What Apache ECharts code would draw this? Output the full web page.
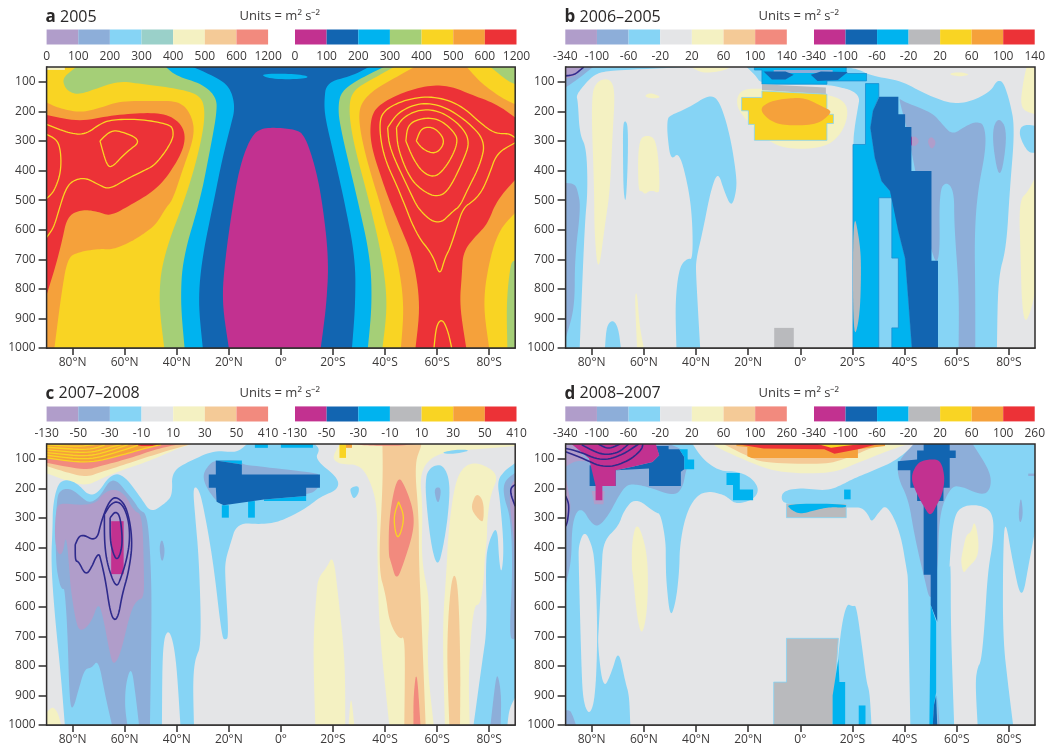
<!DOCTYPE html>
<html><head><meta charset="utf-8">
<style>html,body{margin:0;padding:0;background:#fff}#c{width:1048px;height:749px}</style>
<script src="https://cdn.jsdelivr.net/npm/echarts@6/dist/echarts.min.js"></script>
</head><body><div id="c"></div>
<script>
// ---------- tick labels ----------
const latTicks=[-80,-60,-40,-20,0,20,40,60,80];
const pressureTicks=[100,200,300,400,500,600,700,800,900,1000];
const scaleA=['0','100','200','300','400','500','600','1200'];
const scaleB=['-340','-100','-60','-20','20','60','100','140'];
const scaleC=['-130','-50','-30','-10','10','30','50','410'];
const scaleD=['-340','-100','-60','-20','20','60','100','260'];
// ---------- palette ----------
const LAV='#b09dca',PER='#8daed9',SKY='#86d4f5',TEAL='#9ad0c9',GREY='#e4e5e7',PY='#f4f1c2',PEACH='#f4ca97',SAL='#f28a7e';
const MAG='#c23190',BLUE='#1265b1',CYAN='#00b3ef',GREEN='#a5cf77',GR2='#b9babd',YEL='#f9d423',ORA='#f5a13b',RED='#ec3237';
const NAVY='#2e2a8c',EDGE='#1a8fd1';
const barA1=[LAV,PER,SKY,TEAL,PY,PEACH,SAL],barA2=[MAG,BLUE,CYAN,GREEN,YEL,ORA,RED];
const barB1=[LAV,PER,SKY,GREY,PY,PEACH,SAL],barB2=[MAG,BLUE,CYAN,GR2,YEL,ORA,RED];
const full=[[-90,50],[90,50],[90,1000],[-90,1000]];

// ---------- panel a : regions as [latitude (N<0), pressure] ----------
const a_ora_l=[[-90,170],[-86,187],[-78,204],[-71,193],[-62,165],[-49,165],[-39,165],[-34.4,210],[-33,278],[-37.5,391],[-41.6,500],[-44.2,526],[-48,583],[-53.2,617],[-58.4,645],[-65,668],[-69.5,664],[-78,676],[-82,696],[-84.4,821],[-87,1000],[-90,1000]];
const a_red_l=[[-90,212],[-78,235],[-66,215],[-53,204],[-43,210],[-37,255],[-37,323],[-43,414],[-48.7,469],[-58.4,520],[-65.6,554],[-70,540],[-75.3,532],[-80,543],[-82.5,571],[-83.8,628],[-86.4,719],[-90,821]];
const a_ora_r=[[51.3,50],[42.9,91],[35.1,131],[30.5,176],[29.9,232],[31.8,323],[35,425],[37.7,500],[40.3,583],[44.8,696],[47.4,855],[46.1,1000],[80,1000],[77.5,844],[80.5,685],[84.4,594],[90,543],[90,176],[84.4,153],[76.6,102],[71.4,50]];
const a_red_r=[[90,221],[83,176],[72.7,142],[66,117],[58.4,110],[48,131],[37.7,176],[34.4,221],[34.4,312],[39,436],[41.6,500],[45.5,583],[50.9,696],[53.6,855],[51.7,1000],[71.2,1000],[68.6,855],[69.5,753],[70,673],[75.3,617],[79.2,583],[83,500],[90,431]];
const a_grn_tr=[[80.5,50],[87,97],[90,108],[90,50]];
const a_grn_br=[[90,705],[88.3,708],[86.6,844],[87,1000],[90,1000]];
const a_grn=[[-78.6,50],[-83,80],[-83.8,102],[-82,131],[-78,144],[-71.4,125],[-62.3,97],[-53,108],[-40.3,122],[-31,144],[-29,198],[-30.5,300],[-35.7,470],[-45.5,696],[-47,844],[-44.8,1000],[39,1000],[41,855],[39,696],[33.8,500],[28,312],[26,198],[27.3,131],[35,91],[43.5,50]];
const a_cya=[[-44.2,50],[-40.3,80],[-30,108],[-24.7,153],[-24.7,210],[-27.3,334],[-31,500],[-37.7,696],[-38.6,844],[-37,1000],[33.4,1000],[35,855],[34.4,696],[29.5,500],[22.5,244],[22,176],[23.4,131],[30,91],[39.6,50]];
const a_blu=[[-33.8,50],[-24.7,85],[-19.5,119],[-17.5,187],[-19.5,255],[-22.7,368],[-25.7,500],[-30.3,696],[-31.8,844],[-30,1000],[27.3,1000],[28.6,855],[28.6,696],[24.3,500],[20,334],[17,221],[16.6,165],[17.5,102],[27.3,80],[33.8,50]];
const a_mag=[[-7.8,257],[-11.7,289],[-15.6,380],[-18.2,500],[-21.4,696],[-22.7,844],[-20,1000],[15.3,1000],[17.5,855],[18.4,696],[15.8,500],[13,380],[9,278],[5.2,261],[-1.3,255]];
const a_cya_t=[[-8.4,74],[-3.9,91],[9,91],[11,80],[2.6,72]];
const a_pale=[[-90,50],[-83,50],[-83,60],[-90,60]];
const a_l1=[[-90,244],[-82,272],[-75.3,280],[-68.8,238],[-63.6,227],[-53,227],[-43,244],[-41.3,261],[-41.6,300],[-48,380],[-53,402],[-59.7,431],[-66,464],[-70,448],[-75.3,423],[-80.5,436],[-83,470],[-85,526],[-87.3,594],[-90,626]];
const a_l2=[[-90,278],[-85,300],[-84.2,397],[-87,470],[-90,495]];
const a_l3=[[-69.5,300],[-66,269],[-62.3,264],[-53.2,298],[-59.7,340],[-65,391],[-67,380],[-69.5,300]];
const a_r1=[[52,300],[53.9,255],[59,253],[63.4,300],[59.7,346],[54.5,329],[52,300]];
const a_r2=[[48,300],[48.7,244],[54.5,221],[61,227],[66.2,266],[68.2,300],[65,368],[59.7,425],[54.5,408],[50.6,357],[48,300]];
const a_r3=[[44.4,255],[46.8,221],[53.2,193],[61,198],[68.8,244],[72.7,300],[70,368],[64.3,470],[59.7,490],[54.5,469],[49.4,425],[44.8,323],[44.4,255]];
const a_r4=[[41,255],[44.8,204],[53.2,170],[62.3,181],[71.4,232],[78.6,300],[76.6,380],[71.4,470],[68.8,520],[66.2,537],[60.4,586],[53.2,537],[49.4,469],[41.6,323],[41,255]];
const a_r5=[[90,289],[87.7,275],[82.5,275],[77.9,249],[68.8,176],[58.4,148],[48,159],[39,198],[37.7,255],[39.6,357],[45.5,469],[52,617],[58.4,685],[61,759],[63,696],[65,662],[67.5,594],[70,526],[74,503],[77.3,469],[80,414],[83,340],[90,306]];
const a_r6=[[58.8,1000],[59.7,923],[62,900],[64.3,946],[65.6,1000]];

// ---------- panel b ----------
const b_sky_l=[[-90,50],[-42.6,50],[-68.4,60],[-76.2,66],[-80,83],[-84,122],[-85.9,148],[-85.3,165],[-84.6,278],[-82,323],[-81.5,470],[-82.7,583],[-84.6,1000],[-90,1000]];
const b_per_t=[[-90,50],[-79.4,50],[-85.3,91],[-90,119]];
const b_lav_t=[[-90,50],[-82.7,50],[-85.9,80],[-90,90]];
const b_nav_t=[[-90,80],[-86.5,76],[-84,57],[-83,50]];
const b_per_l=[[-90,442],[-86.5,445],[-85.3,470],[-84.2,526],[-86.5,696],[-86.5,866],[-90,968]];
const b_sliver=[[-68,244],[-67.1,230],[-66.1,249],[-66.1,357],[-66.6,469],[-67.1,509],[-67.8,469],[-68,357]];
const b_sky_m=[[-51,232],[-50.3,215],[-42.6,187],[-34.8,142],[-30.9,165],[-27,278],[-24.5,414],[-24.5,470],[-26.4,526],[-29.2,469],[-31.6,402],[-34.4,469],[-37.4,605],[-40,702],[-40,753],[-38.4,1000],[-47.5,1000],[-48,844],[-46.4,725],[-43.2,696],[-41.3,702],[-41.3,583],[-42.6,469],[-46.4,334],[-49.7,368],[-51,278]];
const b_sky_s=[[-74.9,1000],[-74.3,923],[-71.7,904],[-69.7,935],[-68.8,1000]];
const b_sky_r=[[22.8,153],[22.1,187],[20.8,255],[20.2,312],[20.2,1000],[75.4,1000],[75.8,764],[79,662],[80.3,469],[82.3,255],[80.3,165],[77.7,97],[75.2,97],[73.2,131],[66.1,165],[58.3,176],[48,142],[38.9,97],[27.3,80],[22.1,57],[17,50],[-20.6,50],[-17,80],[-15,108],[9.8,108],[17,122],[20.2,131]];
const b_sky_e=[[84.2,255],[86.8,244],[90,249],[90,340],[87.4,340],[84.2,289]];
const b_halo=[[-24.5,153],[-21.9,125],[-14.7,122],[10.5,142],[17,165],[18.5,210],[15.7,278],[9.2,323],[-3.8,329],[-11.5,306],[-18,255],[-23.8,198]];
const b_py_a=[[-79,470],[-80.3,153],[-78.1,97],[-73,88],[-71,131],[-72,278],[-73,470],[-74.9,583],[-77.5,759],[-79,605]];
const b_py_b=[[-62.2,470],[-62.2,298],[-58.7,278],[-54.9,298],[-53.7,470],[-55.2,475],[-56.1,469],[-58,469],[-59.6,481],[-60.7,469]];
const b_py_1=[[-41.9,50],[-37.4,72],[-29.6,63],[-26.4,50]];
const b_py_2=[[-60,148],[-57.4,136],[-52.9,153],[-57.4,157]];
const b_py_3=[[56.4,74],[60.9,66],[65.5,76],[60.9,83]];
const b_py_4=[[90,210],[84.2,193],[85.5,97],[86.8,50],[90,50]];
const b_py_5=[[90,425],[87.4,470],[83.8,503],[84.5,696],[84.9,844],[86.2,921],[88.7,866],[90,810]];
const b_py_6=[[-63.5,821],[-62.6,810],[-61.7,923],[-60,1000],[-62.6,1000]];
const b_per_r=[[37.6,151],[38.9,165],[50.6,204],[54.5,244],[58.3,280],[63.5,249],[67.4,235],[70.6,244],[71.3,323],[68,470],[66.8,617],[67.1,810],[67.1,1000],[60.7,1000],[60.9,810],[59,583],[59,470],[56,436],[53.2,470],[53.6,705],[50.6,705],[41.5,278]];
const b_per_s=[[73.2,278],[75.8,215],[79.7,266],[76.5,453]];
const b_lav_1=[[41.5,300],[43.5,280],[46,300],[43.5,323]];
const b_lav_2=[[48.6,300],[50.3,283],[52.3,306],[50.3,332]];
const b_mag_s=[[41.8,300],[42.8,283],[42.8,317]];
const b_dark=[[30.3,151],[37.6,151],[37.6,210],[40.2,210],[40.2,253],[42.6,253],[42.6,402],[50.3,402],[50.3,705],[52.8,705],[52.8,1000],[42.8,1000],[41.5,844],[40.2,696],[37.6,605],[34.4,469],[31.2,436],[28.6,357],[26.9,255],[27.9,198]];
const b_cyan=[[20.2,312],[25,312],[25,106],[30.1,106],[30.1,151],[27.9,198],[26.9,255],[28.6,357],[31.2,436],[34.4,469],[35.5,492],[37.6,605],[40.2,696],[41.5,844],[42.8,1000],[35.1,1000],[35.1,932],[37.6,932],[37.6,696],[35.1,696],[35.1,492],[30.1,492],[30.1,1000],[20.2,1000]];
const b_grey2=[[20.2,526],[22.8,639],[23.4,730],[22.8,900],[20.2,980]];
const b_cya_t=[[-17.6,50],[17.6,50],[17.6,72],[25.4,72],[25.4,97],[10.2,97],[10.2,108],[-14.7,108],[-14.7,60],[-17.6,60]];
const b_per_t2=[[-10.2,60],[12.4,60],[12.4,70],[-10.2,70]];
const b_drk_1=[[-14.1,65],[-5.7,65],[-2.5,76],[-5.7,92],[-10.9,92]];
const b_drk_2=[[4,76],[7.9,65],[18.2,67],[14.4,94],[6.6,97]];
const b_gry_t=[[-14.7,108],[9.8,119],[9.8,142],[-14.7,128]];
const b_yel=[[-22.5,153],[-14.7,153],[-14.7,131],[10.2,142],[10.2,210],[12.7,210],[12.7,241],[10.2,241],[10.2,298],[-17.6,298],[-17.6,244],[-19.9,244],[-19.9,198],[-22.5,198]];
const b_ora=[[-16,193],[-11.5,165],[-3.8,155],[2.1,155],[9.2,187],[11.8,198],[11.1,212],[6.6,244],[-3.8,249],[-10.9,238]];
const b_block=[[-10,1000],[-10,932],[-2.5,932],[-2.5,1000]];

// ---------- panel c ----------
const c_py_tl=[[-90,50],[-34,50],[-39.5,65],[-49.8,105],[-61.3,139],[-69,167],[-74.8,192],[-83.1,172],[-87.6,156],[-90,150]];
const c_pch_tl=[[-90,50],[-34.4,50],[-47.2,82],[-58.7,116],[-69,144],[-74.8,163],[-83.1,144],[-90,124]];
const c_sal_tl=[[-90,50],[-38.2,50],[-47.2,65],[-57.5,97],[-69,124],[-75.4,139],[-90,113]];
const c_ora_tl=[[-90,50],[-46,50],[-52.3,65],[-61.3,88],[-74.1,116],[-90,97]];
const c_red_tl=[[-57.5,50],[-46,50],[-47.2,57],[-53.6,57]];
const c_s1=[[-90,97],[-74.1,116],[-61.3,88],[-52.3,65],[-46,52]];
const c_s2=[[-90,88],[-74.1,105],[-62.6,77],[-54.9,54]];
const c_s3=[[-90,79],[-74.1,94],[-63.9,68],[-58.7,52]];
const c_s4=[[-90,70],[-74.1,82],[-65.2,60],[-61.3,52]];
const c_s5=[[-90,61],[-74.1,71],[-67.7,54]];
const c_s6=[[-90,53],[-78,59],[-71.6,52]];
const c_sky=[[-87.6,257],[-85.7,184],[-82.5,169],[-78,184],[-74.1,223],[-70.3,217],[-65.8,156],[-60.7,150],[-53.6,234],[-50,283],[-44.2,249],[-41.6,221],[-42,142],[-34.4,105],[-25.4,71],[-16.9,80],[-13,50],[13,50],[15,68],[13,102],[22,164],[22,204],[15.6,226],[9,271],[0,311],[-6.5,322],[-16.9,316],[-19.5,390],[-21.4,446],[-21.4,503],[-20,702],[-21.4,713],[-22.7,702],[-26,447],[-29.9,254],[-31.8,198],[-33.8,196],[-33,288],[-31.4,447],[-30.5,730],[-33,776],[-33.8,855],[-33.4,1000],[-38.6,1000],[-40.3,764],[-42.9,671],[-45.5,719],[-45.7,1000],[-83,1000],[-84.4,843],[-87,617],[-88.3,447],[-87.7,333]];
const c_per=[[-86.3,234],[-84.4,203],[-80.5,201],[-76.7,229],[-73.5,251],[-69.6,229],[-65.8,172],[-62.6,176],[-59.4,212],[-56.2,246],[-54.3,274],[-51.3,288],[-50,447],[-49.6,617],[-50.3,1000],[-54.5,1000],[-55.8,900],[-57.4,800],[-59.5,855],[-60,934],[-59,1000],[-64.9,1000],[-67.5,900],[-70.1,778],[-72.7,807],[-75.3,810],[-77.3,866],[-79.9,951],[-81.2,923],[-82,673],[-83.1,537],[-83.8,543],[-85,526],[-86.6,447]];
const c_lav=[[-86.4,266],[-84.4,249],[-76.6,257],[-70.8,249],[-68.8,221],[-64.3,200],[-59.7,221],[-56.5,277],[-53.2,288],[-52.6,480],[-52.6,571],[-55.2,577],[-57.8,617],[-61.7,764],[-64.3,798],[-65.6,764],[-68.2,639],[-70.1,583],[-72.7,651],[-76.6,685],[-78.6,662],[-80.8,537],[-81.2,480],[-82.5,350],[-83.8,423],[-85.7,423],[-87,367]];
const c_mag=[[-65.2,311],[-60.4,311],[-60.4,490],[-65.2,490]];
const c_n1=[[-79,390],[-77,351],[-70.8,381],[-69,311],[-66,243],[-63,226],[-59,266],[-56.9,378],[-58.4,480],[-61,560],[-62.3,628],[-63.9,649],[-65.6,617],[-67.3,515],[-69,447],[-70.1,414],[-73.4,480],[-75.3,490],[-77.7,447],[-79,446],[-79,390]];
const c_n2=[[-67.8,288],[-65.6,255],[-63,243],[-60.4,260],[-58.4,311],[-58,378],[-59.4,447],[-61.7,509],[-63,532],[-64.7,509],[-66.9,447],[-67.8,378],[-67.8,288]];
const c_n3=[[-65.6,299],[-63.6,277],[-61.7,294],[-60.8,378],[-61.7,423],[-63,442],[-64.3,423],[-65.6,378],[-65.6,299]];
const c_py_c=[[20.1,423],[17.5,469],[14.3,503],[13.6,560],[12.3,730],[13.2,1000],[24.7,1000],[24.7,787],[22,560]];
const c_py_n=[[26,1000],[26.9,889],[28.2,1000]];
const c_py_bl=[[-90,1000],[-90,957],[-87.7,937],[-85.7,957],[-84.4,1000]];
const c_py_r=[[22.7,50],[19.5,97],[22.7,119],[29.9,119],[33.8,164],[37,254],[37,401],[37.7,673],[41,946],[41.6,1000],[58.7,1000],[56,787],[57.4,583],[53.9,447],[54.5,266],[53.2,142],[59.7,80],[74,68],[90,57],[90,50]];
const c_py_2=[[70.8,119],[66.9,176],[64.3,345],[63.6,480],[62,673],[63,1000],[72.5,1000],[72,810],[74,594],[76.6,594],[78,503],[78.2,447],[79.2,367],[79.2,311],[80.5,221],[83.8,153],[76.6,114]];
const c_pch_b=[[73.4,249],[75.3,215],[77.9,243],[77.9,311],[76.6,311],[73.4,277]];
const c_pch_m=[[39,50],[39.2,176],[37.4,470],[40.3,560],[41.6,651],[45.5,713],[47.8,696],[47.4,1000],[55.6,1000],[53.9,617],[53,447],[53,299],[51.3,119],[53.9,57],[53.9,50]];
const c_sal_m=[[44.8,153],[41.6,288],[41.3,423],[42.2,447],[44.4,515],[47.4,447],[51,345],[51,277],[48,198]];
const c_sal_l=[[50.9,1000],[50.9,900],[52.2,804],[53.6,1000]];
const c_yel_l=[[45.2,245],[43.1,299],[44.8,384],[47.7,299],[45.2,245]];
const c_pch_c=[[64.7,1000],[63.6,730],[65.5,490],[68,503],[69,787],[68.8,1000]];
const c_sal_t=[[27,50],[33,55],[45,57],[52,50]];
const c_yel_t=[[22.5,50],[25,50],[25,97],[22.5,97]];
const c_ora_t=[[25,50],[27.3,50],[27.3,63],[25,63]];
const c_cya_t1=[[-10,50],[-5,50],[-5,63],[-10,63]];
const c_cya_t2=[[0,50],[12.3,50],[12.3,63],[0,63]];
const c_per_m=[[-25.3,102],[-28.6,130],[-30,159],[-28.6,198],[-24.7,245],[-22,257],[-16.9,226],[9.7,226],[15,198],[15,153],[12.3,147],[-9,125],[-15,119],[-15,106]];
const c_drk=[[-25,106],[-15,119],[-15,153],[15,153],[15,198],[9.7,198],[9.7,226],[-6.5,238],[-22,257],[-24.7,245],[-25,198],[-27.7,198],[-27.7,153],[-25,153]];
const c_cy_1=[[-25,106],[-15,106],[-15,119]];
const c_cy_2=[[-6.5,238],[9.7,226],[9.7,243],[-6.5,243]];
const c_cy_3=[[-22.7,257],[-20,257],[-20,299],[-22.7,299]];
const c_cy_4=[[-12.6,243],[-10,243],[-10,299],[-12.6,299]];
const c_sky_s=[[26.6,198],[29.9,190],[30,215],[28,238],[26.8,215]];
const c_per_s=[[-46.8,401],[-45.7,367],[-44.4,412],[-45.7,457]];
const c_sky_1=[[55.2,164],[57.8,125],[62.3,119],[65,176],[64.3,288],[62.3,401],[60.4,463],[58.4,423],[56.5,311]];
const c_per_1=[[58.8,198],[61.7,196],[60.8,249],[59.7,243]];
const c_sky_t=[[61,80],[67.5,68],[73.4,71],[66.2,85]];
const c_sky_r=[[90,114],[85.7,142],[83.1,176],[84.2,243],[85.7,401],[84.8,492],[83.8,447],[83.1,322],[79.9,378],[78.6,447],[79.2,673],[77.3,787],[74,1000],[87,1000],[87.7,946],[90,906]];
const c_per_r=[[90,147],[85.7,176],[85.5,226],[88.3,299],[89,480],[87.7,702],[89.6,713],[90,700]];
const c_lav_r=[[90,170],[88.3,187],[87.7,243],[89.6,378],[90,468]];
const c_per_b=[[80.5,1000],[82.5,843],[83.4,830],[84.7,900],[84.4,1000]];
const c_nav_r=[[90,187],[88.3,198],[88.3,221],[90,260]];

// ---------- panel d ----------
const d_sky_l=[[-90,50],[-41.3,50],[-37.4,102],[-30.9,142],[-24.5,142],[-18.6,164],[-15.7,204],[-18,238],[-24.5,254],[-27.7,232],[-29.6,221],[-35.4,209],[-40,226],[-43.9,288],[-46.2,390],[-46.4,480],[-47.7,583],[-49.9,642],[-51.4,515],[-51.6,447],[-51.6,378],[-53.6,285],[-55.5,283],[-63.3,230],[-67.8,277],[-69.7,328],[-75.6,378],[-76.2,480],[-77.2,662],[-77.7,730],[-75.6,883],[-72.3,821],[-69.7,742],[-67.1,855],[-65.6,900],[-65.2,1000],[-90,1000]];
const d_pocket=[[-85,390],[-82.7,342],[-80,390],[-78.8,447],[-77.7,673],[-78.5,900],[-80.7,970],[-83.3,923],[-84,787],[-85,447]];
const d_per_bl=[[-90,950],[-88,950],[-86,1000],[-90,1000]];
const d_py_l=[[-64.6,480],[-64.6,378],[-62.6,311],[-59.4,390],[-58.3,480],[-58.7,617],[-60.7,702],[-62.6,639],[-64.3,480]];
const d_per_l=[[-90,50],[-50.3,50],[-45.1,68],[-42.6,108],[-43.9,142],[-45.1,198],[-48.4,226],[-57.4,198],[-62.6,187],[-66.5,187],[-69.7,226],[-73.3,288],[-77.7,333],[-80.7,311],[-83.3,271],[-85.9,277],[-87.6,333],[-87.8,447],[-90,526]];
const d_per_r=[[43.5,50],[66.1,50],[72.8,142],[73.2,198],[70,226],[60.9,189],[57.3,200],[53.2,288],[52.8,480],[50,594],[47.3,492],[46,447],[43.5,345],[41.5,238],[37.4,164],[37.4,108]];
const d_sky_r=[[44.1,50],[90,50],[90,345],[87.8,447],[84.9,588],[81.4,447],[78.4,291],[77.7,447],[77.7,707],[79.7,866],[81.6,1000],[42.2,1000],[41.5,673],[41.3,503],[40.9,480],[38.3,345],[33.1,252],[29.9,283],[27.3,316],[26,288],[23.4,263],[17.6,266],[-5.3,254],[-7.4,238],[-6.6,209],[0.1,198],[10.5,209],[17.6,181],[18.9,173],[27.3,142],[36.4,108]];
const d_grey_a=[[57,480],[58.6,299],[62.2,257],[70,257],[74.1,288],[74,378],[71.9,480],[70.6,673],[69.3,787],[68,804],[67.1,855],[68,1000],[59,1000],[57.7,673],[57.7,447]];
const d_py_r=[[62,423],[63.6,356],[65.5,350],[66.8,305],[68.5,378],[68,435],[64.2,468],[62.5,490],[61.6,447]];
const d_per_s=[[83.6,288],[84.6,221],[85.5,288],[84.3,322]];
const d_per_e=[[87.4,150],[90,150],[90,158],[87.4,158]];
const d_sky_b=[[15,707],[17.6,588],[20.2,600],[21.5,594],[24.1,764],[25.4,855],[26.6,889],[27.3,1000],[12.4,1000]];
const d_block=[[-10.2,1000],[-10.2,855],[-5.3,855],[-5.3,707],[14.6,707],[12.4,1000]];
const d_cy_b1=[[14.6,776],[12.4,900],[12.4,1000],[17.2,1000],[17.2,855],[15,855]];
const d_cy_b2=[[22.4,934],[25,934],[25,1000],[22.4,1000]];
const d_blue=[[47.3,50],[57.3,50],[57.3,72],[59.6,72],[59.6,97],[57.3,97],[57.3,198],[54.9,198],[54.9,243],[52.5,243],[52.5,651],[50,594],[50,492],[47.3,492],[47.3,243],[44.8,243],[44.8,198],[42.2,198],[42.2,139],[37.4,139],[37.4,108],[44.8,102],[44.8,72],[47.3,72]];
const d_per_th=[[52.6,900],[53.4,1000],[52.6,1000]];
const d_cy_col=[[50,594],[52.1,651],[52.1,889],[51.2,934],[50.8,1000],[49.5,1000]];
const d_bl_tip=[[50.8,1000],[51.2,934],[52.1,900],[52.5,1000]];
const d_mag_r=[[42.2,164],[44.8,114],[48.6,102],[53.8,102],[55.5,164],[54.5,218],[52.5,254],[49.9,297],[47.3,260],[44.8,221]];
const d_blu_l=[[-80.8,122],[-70.8,122],[-70.8,192],[-80.8,192]];
const d_blu_b=[[-70.8,139],[-64.4,127],[-56.7,111],[-54.1,88],[-55.4,57],[-50.5,57],[-50.5,68],[-46.4,68],[-44.5,94],[-44.5,135],[-45.8,144],[-45.8,192],[-58,192],[-58,133]];
const d_cy_l=[[-46.4,68],[-43.2,68],[-43.2,102],[-40.7,102],[-40.7,135],[-44.5,135],[-44.5,94]];
const d_mag_l=[[-87.5,50],[-55.4,50],[-54.1,88],[-56.7,111],[-64.4,127],[-70.8,139],[-70.8,192],[-75.9,192],[-75.9,240],[-78.5,240],[-78.5,192],[-80.4,122],[-81,99],[-87.5,52]];
const d_lav_l=[[-90,50],[-87.5,50],[-81,111],[-86,105],[-90,127]];
const d_lav_e=[[-90,164],[-87.8,254],[-89.1,322],[-90,333]];
const d_lav_t=[[-80,209],[-75,209],[-75.5,254],[-79,254]];
const d_la=[[-90,65],[-85.3,74],[-76.2,108],[-68.4,88],[-62,50]];
const d_lb=[[-90,76],[-84.6,94],[-74.9,133],[-65.8,108],[-60.7,68],[-60.4,50]];
const d_lc=[[-83.8,53],[-76.2,88],[-69.7,80],[-65.8,50]];
const d_ld=[[-77.5,50],[-73.6,68],[-69.1,50]];
const d_le=[[-90,226],[-88.6,254],[-89.2,311],[-90,328]];
const d_py_t=[[-33,50],[-33,57],[-22,102],[-9,147],[11.8,151],[22,114],[35,68],[41.5,50]];
const d_pch_t=[[-29.6,50],[-20.3,91],[-14.1,114],[9.2,119],[16.9,102],[27.3,63],[32.5,50]];
const d_ora_t=[[-24.5,50],[-24.5,57],[-20.3,60],[-20.3,91],[-18.6,97],[22.1,97],[22.1,68],[32.5,57],[32.5,50]];
const d_red_t=[[-24.5,50],[-14.1,65],[9.2,68],[13.1,83],[22.1,68],[29.9,50]];
const d_yel_t=[[6.6,50],[11.8,63],[16.9,57],[23.4,50]];
const d_cy_1=[[-28.3,148],[-23.2,148],[-23.2,204],[-18.1,204],[-18.1,240],[-25.8,240],[-25.8,189],[-28.3,189]];
const d_cy_2=[[16.8,204],[19.3,204],[19.3,237],[16.8,237]];
const d_rect=[[-5.3,252],[17.6,252],[17.6,299],[-5.3,299]];
const d_rect_c=[[-5.3,252],[17.6,252],[17.6,266],[12,263],[6.6,271],[0,288],[-3.8,271]];

// ---------- draw orders: [colour, region, kind, edge]  kind: s=smooth fill, b=blocky fill, l=contour ----------
const layersA=[[YEL,full,'b'],[ORA,a_ora_l,'s'],[RED,a_red_l,'s'],[ORA,a_ora_r,'s'],[RED,a_red_r,'s'],[GREEN,a_grn_tr,'s'],[GREEN,a_grn_br,'s'],[PY,a_pale,'b'],[GREEN,a_grn,'s'],[CYAN,a_cya,'s'],[BLUE,a_blu,'s'],[MAG,a_mag,'s'],[CYAN,a_cya_t,'s'],
 [YEL,a_l1,'l'],[YEL,a_l2,'l'],[YEL,a_l3,'l'],[YEL,a_r1,'l'],[YEL,a_r2,'l'],[YEL,a_r3,'l'],[YEL,a_r4,'l'],[YEL,a_r5,'l'],[YEL,a_r6,'l']];
const layersB=[[GREY,full,'b'],[SKY,b_sky_l,'s'],[PER,b_per_t,'s'],[LAV,b_lav_t,'s'],[NAVY,b_nav_t,'l'],[PER,b_per_l,'s'],[SKY,b_sliver,'s'],[SKY,b_sky_m,'s'],[SKY,b_sky_s,'s'],[SKY,b_sky_r,'s'],[SKY,b_sky_e,'s'],
 [PY,b_halo,'s'],[PY,b_py_a,'s'],[PY,b_py_b,'s'],[PY,b_py_1,'s'],[PY,b_py_2,'s'],[PY,b_py_3,'s'],[PY,b_py_4,'s'],[PY,b_py_5,'s'],[PY,b_py_6,'s'],
 [PER,b_per_r,'s'],[PER,b_per_s,'s'],[LAV,b_lav_1,'s'],[LAV,b_lav_2,'s'],[MAG,b_mag_s,'b'],[CYAN,b_cyan,'b',EDGE],[GR2,b_grey2,'s'],[BLUE,b_dark,'b'],
 [CYAN,b_cya_t,'b',EDGE],[PER,b_per_t2,'b'],[BLUE,b_drk_1,'b'],[BLUE,b_drk_2,'b'],[GR2,b_gry_t,'b'],[YEL,b_yel,'b',SKY],[ORA,b_ora,'s'],[GR2,b_block,'b']];
const layersC=[[GREY,full,'b'],[PY,c_py_tl,'s'],[PEACH,c_pch_tl,'s'],[SAL,c_sal_tl,'s'],[ORA,c_ora_tl,'s'],[RED,c_red_tl,'b'],
 [YEL,c_s1,'l'],[YEL,c_s2,'l'],[YEL,c_s3,'l'],[YEL,c_s4,'l'],[YEL,c_s5,'l'],[YEL,c_s6,'l'],
 [PY,c_py_c,'s'],[PY,c_py_n,'s'],[PY,c_py_bl,'s'],[PY,c_py_r,'s'],[PY,c_py_2,'s'],[PEACH,c_pch_b,'s'],[PEACH,c_pch_m,'s'],[SAL,c_sal_m,'s'],[SAL,c_sal_l,'s'],[YEL,c_yel_l,'l'],[PEACH,c_pch_c,'s'],[SAL,c_sal_t,'s'],[YEL,c_yel_t,'b'],[ORA,c_ora_t,'b'],
 [SKY,c_sky,'s'],[PER,c_per,'s'],[LAV,c_lav,'s'],[MAG,c_mag,'b'],[NAVY,c_n1,'l'],[NAVY,c_n2,'l'],[NAVY,c_n3,'l'],
 [CYAN,c_cya_t1,'b'],[CYAN,c_cya_t2,'b'],[PER,c_per_m,'s'],[CYAN,c_cy_1,'b'],[CYAN,c_cy_2,'b'],[CYAN,c_cy_3,'b'],[CYAN,c_cy_4,'b'],[BLUE,c_drk,'b'],
 [SKY,c_sky_s,'s'],[PER,c_per_s,'s'],[SKY,c_sky_1,'s'],[PER,c_per_1,'s'],[SKY,c_sky_t,'s'],[SKY,c_sky_r,'s'],[PER,c_per_r,'s'],[LAV,c_lav_r,'s'],[PER,c_per_b,'s'],[NAVY,c_nav_r,'l']];
const layersD=[[GREY,full,'b'],[SKY,d_sky_l,'s'],[GREY,d_pocket,'s'],[PER,d_per_bl,'s'],[PY,d_py_l,'s'],[PER,d_per_l,'s'],[SKY,d_sky_r,'s'],[GREY,d_grey_a,'s'],[PY,d_py_r,'s'],[PER,d_per_s,'s'],[PER,d_per_e,'b'],[PER,d_per_r,'s'],
 [SKY,d_sky_b,'s'],[GR2,d_block,'b',SKY],[CYAN,d_cy_b1,'b'],[CYAN,d_cy_b2,'b'],[BLUE,d_blue,'b'],[PER,d_per_th,'b'],[CYAN,d_cy_col,'b'],[BLUE,d_bl_tip,'b'],[MAG,d_mag_r,'s'],
 [LAV,d_lav_l,'s'],[LAV,d_lav_e,'s'],[LAV,d_lav_t,'b'],[BLUE,d_blu_l,'b'],[BLUE,d_blu_b,'b'],[CYAN,d_cy_l,'b'],[MAG,d_mag_l,'b'],[NAVY,d_la,'l'],[NAVY,d_lb,'l'],[NAVY,d_lc,'l'],[NAVY,d_ld,'l'],[NAVY,d_le,'l'],
 [PY,d_py_t,'s'],[PEACH,d_pch_t,'s'],[ORA,d_ora_t,'b'],[RED,d_red_t,'b'],[YEL,d_yel_t,'b'],[CYAN,d_cy_1,'b'],[CYAN,d_cy_2,'b'],[GR2,d_rect,'b',SKY],[CYAN,d_rect_c,'s']];

// ---------- layout ----------
const panels=[
 {tag:'a',name:'2005',left:46.6,top:67,w:468.6,bar1:46.6,bar2:295,barY:29.5,layers:layersA,c1:barA1,c2:barA2,labels:scaleA},
 {tag:'b',name:'2006–2005',left:565.6,top:67,w:469.4,bar1:565.3,bar2:814,barY:29.5,layers:layersB,c1:barB1,c2:barB2,labels:scaleB},
 {tag:'c',name:'2007–2008',left:46.6,top:444,w:468.6,bar1:46.6,bar2:295,barY:406.4,layers:layersC,c1:barB1,c2:barB2,labels:scaleC},
 {tag:'d',name:'2008–2007',left:565.6,top:444,w:469.4,bar1:565.3,bar2:814,barY:406.4,layers:layersD,c1:barB1,c2:barB2,labels:scaleD}
];
const FONT='"Open Sans",sans-serif',TXT='#3c3a3a',AX='#2e2c2c';
const grid=[],xAxis=[],yAxis=[],series=[],title=[];
function onFrame(p){return Math.abs(p[0])>=89.9||p[1]<=50.5||p[1]>=999.5;}
// corner-cutting of a region's outline on screen; vertices on the plot frame stay sharp
function rounded(api,region,closed){
  let v=region.map(p=>({c:api.coord(p),f:onFrame(p)}));
  if(!closed){v[0].f=true;v[v.length-1].f=true;}
  for(let it=0;it<3;it++){
    const n=[],m=v.length;
    for(let i=0;i<m;i++){
      const P=v[i];
      if(P.f){n.push(P);continue;}
      const A=v[(i-1+m)%m].c,B=v[(i+1)%m].c,C=P.c;
      n.push({c:[C[0]+(A[0]-C[0])*.25,C[1]+(A[1]-C[1])*.25],f:false});
      n.push({c:[C[0]+(B[0]-C[0])*.25,C[1]+(B[1]-C[1])*.25],f:false});
    }
    v=n;
  }
  return v.map(o=>o.c);
}
panels.forEach(P=>{
  const g=grid.length;
  grid.push({left:P.left,top:P.top,width:P.w,height:281,containLabel:false});
  xAxis.push({gridIndex:g,type:'value',min:-90,max:90,splitLine:{show:false},
    axisLine:{onZero:false,lineStyle:{color:AX,width:1.5}},
    axisTick:{length:7,customValues:latTicks,lineStyle:{color:AX,width:1.5}},
    axisLabel:{customValues:latTicks,color:TXT,fontFamily:FONT,fontSize:12,margin:9,
      formatter:v=>v===0?'0°':(v<0?(-v)+'°N':v+'°S')}});
  yAxis.push({gridIndex:g,type:'value',inverse:true,min:50,max:1000,splitLine:{show:false},
    axisLine:{onZero:false,lineStyle:{color:AX,width:1.5}},
    axisTick:{length:8,customValues:pressureTicks,lineStyle:{color:AX,width:1.5}},
    axisLabel:{customValues:pressureTicks,color:TXT,fontFamily:FONT,fontSize:12,margin:11,formatter:v=>String(v)}});
  const L=P.layers;
  series.push({type:'custom',xAxisIndex:g,yAxisIndex:g,clip:true,silent:true,animation:false,z:2,
    data:L.map((_,i)=>[i]),encode:{x:[],y:[]},
    renderItem:(params,api)=>{
      const l=L[params.dataIndex];
      if(l[2]==='l'){
        return{type:'polyline',shape:{points:rounded(api,l[1],false)},style:{fill:null,stroke:l[0],lineWidth:l[0]===NAVY?1.6:1.3}};
      }
      const points=l[2]==='s'?rounded(api,l[1],true):l[1].map(p=>api.coord(p));
      return{type:'polygon',shape:{points},style:{fill:l[0],stroke:l[3]||null,lineWidth:l[3]?0.8:0}};
    }});
  series.push({type:'custom',xAxisIndex:g,yAxisIndex:g,clip:false,silent:true,animation:false,z:5,
    data:[[0]],encode:{x:[],y:[]},
    renderItem:(params,api)=>({type:'polygon',shape:{points:full.map(p=>api.coord(p))},style:{fill:null,stroke:AX,lineWidth:1.5}})});
  title.push({left:P.left-1,top:P.barY-21,padding:0,text:'{b|'+P.tag+'} '+P.name,
    textStyle:{fontFamily:FONT,fontSize:16,fontWeight:'normal',color:'#2a2828',rich:{b:{fontFamily:FONT,fontSize:17,fontWeight:'bold',color:'#2a2828'}}}});
  title.push({left:P.left+193,top:P.barY-20,padding:0,text:'Units = m² s⁻²',
    textStyle:{fontFamily:FONT,fontSize:13,fontWeight:'normal',color:TXT}});
  [[P.bar1,P.c1],[P.bar2,P.c2]].forEach(([lx,cols])=>{
    const i=grid.length;
    grid.push({left:lx,top:P.barY,width:221.5,height:15});
    xAxis.push({gridIndex:i,type:'value',min:0,max:7,interval:1,splitLine:{show:false},axisLine:{show:false},axisTick:{show:false},
      axisLabel:{color:TXT,fontFamily:FONT,fontSize:12,margin:6,showMinLabel:true,showMaxLabel:true,hideOverlap:false,formatter:v=>P.labels[v]}});
    yAxis.push({gridIndex:i,type:'value',min:0,max:1,show:false});
    series.push({type:'custom',xAxisIndex:i,yAxisIndex:i,silent:true,animation:false,data:cols.map((c,k)=>[k]),encode:{x:[],y:[]},
      renderItem:(params,api)=>{
        const a=api.coord([params.dataIndex,1]),b=api.coord([params.dataIndex+1,0]);
        return{type:'rect',shape:{x:a[0],y:a[1],width:b[0]-a[0],height:b[1]-a[1]},style:{fill:cols[params.dataIndex]}};
      }});
  });
});
const chart=echarts.init(document.getElementById('c'),null,{renderer:'canvas',width:1048,height:749});
chart.setOption({animation:false,backgroundColor:'#fff',title,grid,xAxis,yAxis,series});
</script></body></html>
